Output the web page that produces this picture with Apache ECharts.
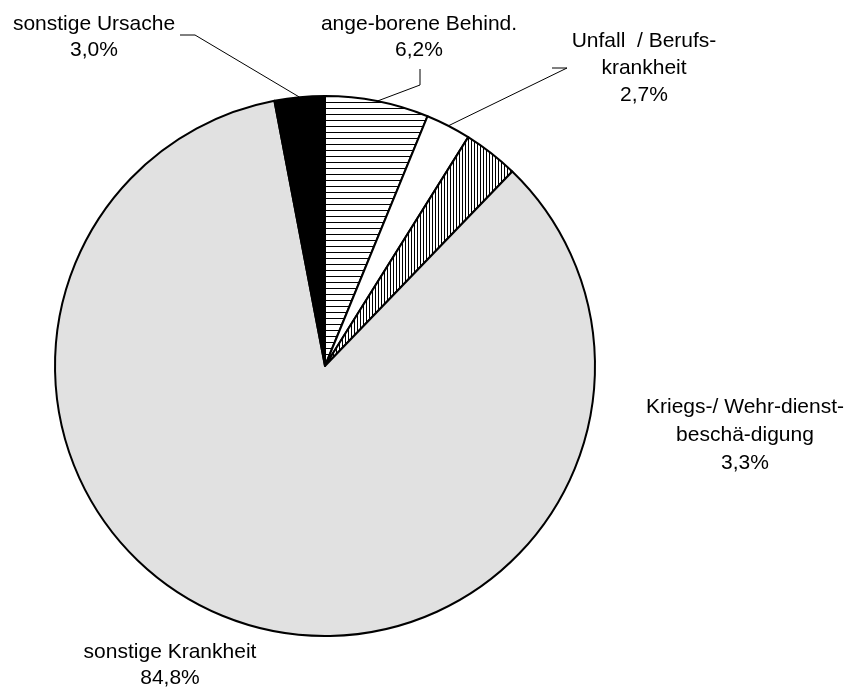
<!DOCTYPE html>
<html>
<head>
<meta charset="utf-8">
<script src="https://cdn.jsdelivr.net/npm/echarts@6/dist/echarts.min.js"></script>
<style>
  html, body { margin: 0; padding: 0; background: #fff; }
  #chart { width: 853px; height: 687px; }
</style>
</head>
<body>
<div id="chart"></div>
<script>
// Causes of disability, share of all cases (clockwise from 12 o'clock)
const categories = [
  'ange-borene Behind.',
  'Unfall  / Berufs-\nkrankheit',
  'Kriegs-/ Wehr-dienst-\nbeschä-digung',
  'sonstige Krankheit',
  'sonstige Ursache'
];
const shares = [6.2, 2.7, 3.3, 84.8, 3.0];

// Pie geometry
const CX = 325, CY = 366, R = 270;

// Label placement: text block centre x, top y, line height, and leader bends
const labelSpots = [
  { x: 419, y: 11, lh: 26, bend: [[420, 85], [420, 69]] },
  { x: 644, y: 28, lh: 27, bend: [[567, 68], [552, 68]] },
  { x: 745, y: 393, lh: 28, bend: null },
  { x: 170, y: 639, lh: 26, bend: null },
  { x: 94, y: 11, lh: 26, bend: [[195, 35], [180, 35]] }
];

// Fill patterns
function hatch(w, h, draw) {
  const c = document.createElement('canvas');
  c.width = w; c.height = h;
  const g = c.getContext('2d');
  g.fillStyle = '#ffffff';
  g.fillRect(0, 0, w, h);
  g.fillStyle = '#000000';
  draw(g);
  return c;
}
const horizontalLines = hatch(6, 6, g => g.fillRect(0, 0, 6, 1));
const verticalLines = hatch(3, 3, g => g.fillRect(0, 0, 1, 3));

const fills = [
  { image: horizontalLines, repeat: 'repeat' },
  '#ffffff',
  { image: verticalLines, repeat: 'repeat' },
  '#e1e1e1',
  '#000000'
];

// Mid-angle edge point of each slice (for leader lines)
const total = shares.reduce((a, b) => a + b, 0);
const edgePoints = [];
let acc = 0;
shares.forEach(v => {
  const mid = (acc + v / 2) / total * Math.PI * 2;
  edgePoints.push([CX + R * Math.sin(mid), CY - R * Math.cos(mid)]);
  acc += v;
});

const fmt = v => v.toFixed(1).replace('.', ',') + '%';

const chart = echarts.init(document.getElementById('chart'), null, { renderer: 'canvas' });

chart.setOption({
  backgroundColor: '#ffffff',
  animation: false,
  series: [{
    type: 'pie',
    center: [CX, CY],
    radius: R,
    startAngle: 90,
    clockwise: true,
    avoidLabelOverlap: false,
    silent: true,
    itemStyle: { borderColor: '#000000', borderWidth: 2 },
    label: {
      show: true,
      color: '#000000',
      fontFamily: 'Liberation Sans, Arial, sans-serif',
      fontSize: 21,
      align: 'center',
      formatter: p => p.name + '\n' + fmt(p.value)
    },
    labelLine: {
      show: true,
      length: 10,
      length2: 10,
      lineStyle: { color: '#000000', width: 1 }
    },
    labelLayout: function (p) {
      const s = labelSpots[p.dataIndex];
      const out = { x: s.x, y: s.y, align: 'center', verticalAlign: 'top' };
      if (s.bend) {
        out.labelLinePoints = [edgePoints[p.dataIndex], s.bend[0], s.bend[1]];
      }
      return out;
    },
    data: categories.map((name, i) => ({
      name: name,
      value: shares[i],
      itemStyle: { color: fills[i] },
      label: { lineHeight: labelSpots[i].lh },
      labelLine: { show: !!labelSpots[i].bend }
    }))
  }]
});
</script>
</body>
</html>
